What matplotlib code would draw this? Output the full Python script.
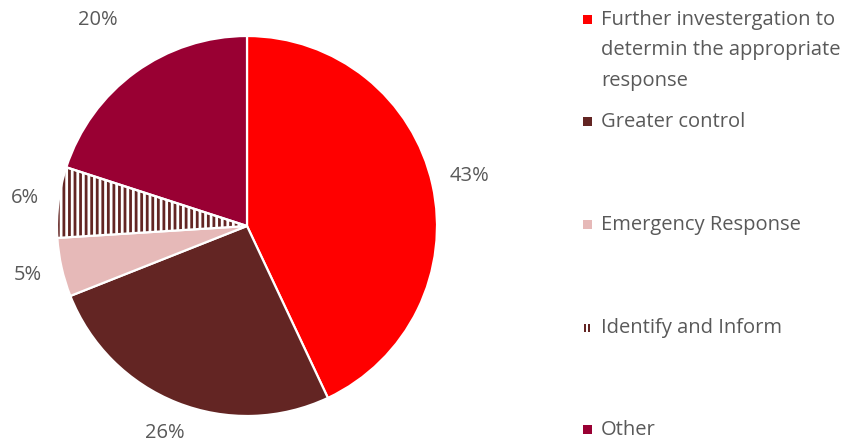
import matplotlib
matplotlib.use("Agg")
import numpy as np
import matplotlib.pyplot as plt
from matplotlib.patches import Wedge, Rectangle

plt.rcParams["font.family"] = ["Open Sans", "DejaVu Sans"]
plt.rcParams["hatch.linewidth"] = 2.0

labels = ["Further investergation to\ndetermin the appropriate\nresponse",
          "Greater control",
          "Emergency Response",
          "Identify and Inform",
          "Other"]
shares = [43, 26, 5, 6, 20]
colors = ["#FF0000", "#632523", "#E6B9B8", "#632523", "#990033"]
hatches = [None, None, None, "|||", None]
# how far out each percentage sits (in pie radii)
label_dist = [1.2, 1.17, 1.18, 1.18, 1.34]

text_color = "#595959"
fs = 14.5

fig = plt.figure(figsize=(8.53, 4.42), dpi=100)
ax = fig.add_axes([57 / 853, 26 / 442, 380 / 853, 380 / 442])

wedges, _, pct = ax.pie(shares, colors=colors, startangle=90, counterclock=False,
                        radius=1.0, autopct="%1.0f%%", pctdistance=1.2,
                        wedgeprops=dict(edgecolor="white", linewidth=1.6),
                        textprops=dict(color=text_color, fontsize=fs))

for w, t, d in zip(wedges, pct, label_dist):
    ang = np.deg2rad((w.theta1 + w.theta2) / 2)
    t.set_position((d * np.cos(ang), d * np.sin(ang)))

# striped slice: brown lines on white, white border drawn on top
for w, h in zip(wedges, hatches):
    if h:
        w.set_facecolor("white")
        w.set_edgecolor("#632523")
        w.set_hatch(h)
        w.set_linewidth(0)
        ax.add_patch(Wedge(w.center, w.r, w.theta1, w.theta2, fill=False,
                           edgecolor="white", linewidth=1.6))

ax.set_xlim(-1, 1)
ax.set_ylim(-1, 1)
ax.set_aspect("equal")
ax.axis("off")

# legend column on the right
y_first = 1 - 20 / 442
step = 102.5 / 442
px, py = 1 / 853, 1 / 442
for i, (lab, c, h) in enumerate(zip(labels, colors, hatches)):
    y = y_first - i * step
    if h:
        for dx in (584, 588):
            fig.patches.append(Rectangle((dx * px, y - 4 * py), 2 * px, 8 * py,
                                         transform=fig.transFigure,
                                         facecolor=c, linewidth=0))
    else:
        fig.patches.append(Rectangle((583 * px, y - 4 * py), 9 * px, 9 * py,
                                     transform=fig.transFigure,
                                     facecolor=c, linewidth=0))
    if "\n" in lab:
        fig.text(601 * px, y + 10 * py, lab, color=text_color, fontsize=fs,
                 va="top", ha="left", linespacing=1.7)
    else:
        fig.text(601 * px, y, lab, color=text_color, fontsize=fs,
                 va="center", ha="left")

fig.savefig("out.png", dpi=100)
